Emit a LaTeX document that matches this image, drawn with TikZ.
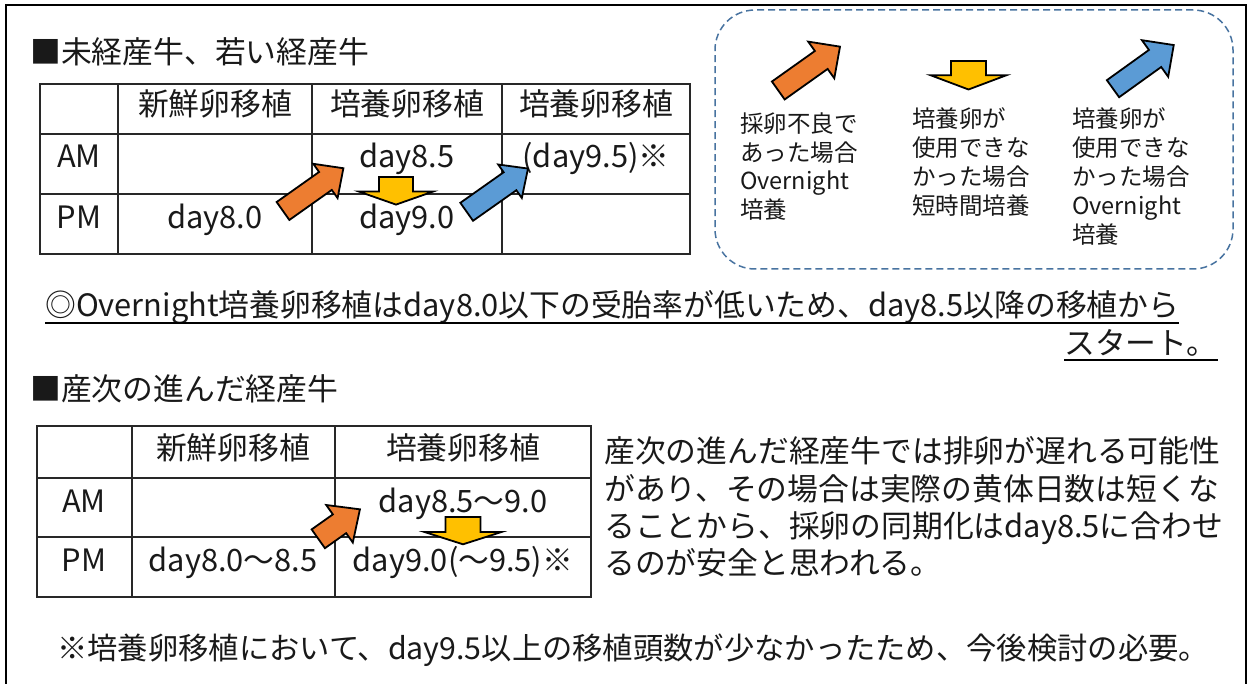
\documentclass[tikz,border=0pt]{standalone}
\usepackage{fontspec}
\setmainfont{Noto Sans CJK JP}
\definecolor{arrOrange}{RGB}{237,125,49}
\definecolor{arrYellow}{RGB}{255,192,0}
\definecolor{arrBlue}{RGB}{91,155,213}
\definecolor{legLine}{RGB}{72,115,160}
\definecolor{gridLine}{RGB}{40,40,40}
\definecolor{txt}{RGB}{25,25,25}
\newcommand{\blkarr}[8]{%
  \path[blockarr, fill=#8, shift={(#1,#2)}, rotate=#3]
  (0,{-(#5)/2}) -- ({#4-#7},{-(#5)/2}) -- ({#4-#7},{-(#6)/2}) -- (#4,0) --
  ({#4-#7},{(#6)/2}) -- ({#4-#7},{(#5)/2}) -- (0,{(#5)/2}) -- cycle;}
\tikzset{
  blockarr/.style={draw=black, line width=1.8pt, line join=miter},
  tbl/.style={draw=gridLine, line width=1.4pt},
  big/.style={font=\fontsize{30.8pt}{37pt}\selectfont, text=txt, inner sep=0pt, anchor=base},
  bigl/.style={big, anchor=base west},
  foot/.style={bigl, font=\fontsize{30.3pt}{37pt}\selectfont},
  lg/.style={font=\fontsize{23.5pt}{28pt}\selectfont, text=txt, inner sep=0pt, anchor=base west},
  uline/.style={line width=1.6pt, draw=black},
  legendbox/.style={draw=legLine, line width=1.5pt, dash pattern=on 7pt off 4pt, rounded corners=40pt}
}
\begin{document}
\begin{tikzpicture}[x=1pt,y=-1pt]
\useasboundingbox (0,0) rectangle (1250,684);
% outer frame
\draw[line width=2pt] (6,720) -- (6,5) -- (1246,5) -- (1246,720);

% heading 1
\node[bigl] (h1) at (30,64) {■未経産牛、若い経産牛};

% table 1
\draw[tbl] (40,84) rectangle (690,254);
\draw[tbl] (40,134) -- (690,134) (40,194) -- (690,194);
\draw[tbl] (118,84) -- (118,254) (312,84) -- (312,254) (502,84) -- (502,254);
\node[big] (ta1) at (215,116) {新鮮卵移植};
\node[big] (ta2) at (407,116) {培養卵移植};
\node[big] (ta3) at (596,116) {培養卵移植};
\node[big] (tam) at (79,168) {AM};
\node[big] (tpm) at (79,229) {PM};
\node[big] (tb2) at (407,168) {day8.5};
\node[big] (tb3) at (596,168) {(day9.5)※};
\node[big] (tc1) at (215,229) {day8.0};
\node[big] (tc2) at (407,229) {day9.0};
\blkarr{283}{211}{35.3}{74}{22}{42}{22}{arrOrange}
\blkarr{396}{177}{-90}{27.6}{34}{74}{13}{arrYellow}
\blkarr{466.7}{211.8}{35.2}{75}{22}{41}{22}{arrBlue}

% legend
\node[legendbox, minimum width=518pt, minimum height=259pt, inner sep=0pt] (leg) at (974,139.5) {};
\blkarr{778.3}{90.5}{35.4}{75.7}{22}{45}{23}{arrOrange}
\blkarr{968.5}{61}{-90}{28.5}{35}{76}{14.3}{arrYellow}
\blkarr{1113}{88.7}{35.7}{74.8}{21}{45}{23}{arrBlue}
\foreach \t [count=\i] in {採卵不良で,あった場合,Overnight,培養}
  \node[lg] (la\i) at (740,{133+28.5*(\i-1)}) {\t};
\foreach \t [count=\i] in {培養卵が,使用できな,かった場合,短時間培養}
  \node[lg] (lb\i) at (912,{128+29*(\i-1)}) {\t};
\foreach \t [count=\i] in {培養卵が,使用できな,かった場合,Overnight,培養}
  \node[lg] (lc\i) at (1072,{128+29*(\i-1)}) {\t};

% note
\node[bigl] (n1) at (45,317) {◎Overnight培養卵移植はday8.0以下の受胎率が低いため、day8.5以降の移植から};
\node[bigl] (n2) at (1064,355) {スタート。};
\draw[uline] ([yshift=-6pt]n1.base west) -- ([yshift=-6pt]n1.base east);
\draw[uline] ([yshift=-5pt]n2.base west) -- ([yshift=-5pt]n2.base east);

% heading 2
\node[bigl] (h2) at (30,400) {■産次の進んだ経産牛};

% table 2
\draw[tbl] (37,426) rectangle (591,597);
\draw[tbl] (37,478) -- (591,478) (37,537) -- (591,537);
\draw[tbl] (132,426) -- (132,597) (335,426) -- (335,597);
\node[big] (sa1) at (233,459) {新鮮卵移植};
\node[big] (sa2) at (463,459) {培養卵移植};
\node[big] (sam) at (84,512) {AM};
\node[big] (spm) at (84,571) {PM};
\node[big] (sb2) at (463,512) {day8.5〜9.0};
\node[big] (sc1) at (233,571) {day8.0〜8.5};
\node[big] (sc2) at (463,571) {day9.0(〜9.5)※};
\blkarr{318.3}{538.8}{35.3}{51}{23}{46}{25}{arrOrange}
\blkarr{463}{517}{-90}{27.3}{35}{77}{12.3}{arrYellow}

% paragraph
\node[bigl] (p1) at (604,462) {産次の進んだ経産牛では排卵が遅れる可能性};
\node[bigl] (p2) at (604,500) {があり、その場合は実際の黄体日数は短くな};
\node[bigl] (p3) at (604,537) {ることから、採卵の同期化はday8.5に合わせ};
\node[bigl] (p4) at (604,574) {るのが安全と思われる。};

% footnote
\node[foot] (fn) at (57,659) {※培養卵移植において、day9.5以上の移植頭数が少なかったため、今後検討の必要。};
\end{tikzpicture}
\end{document}
